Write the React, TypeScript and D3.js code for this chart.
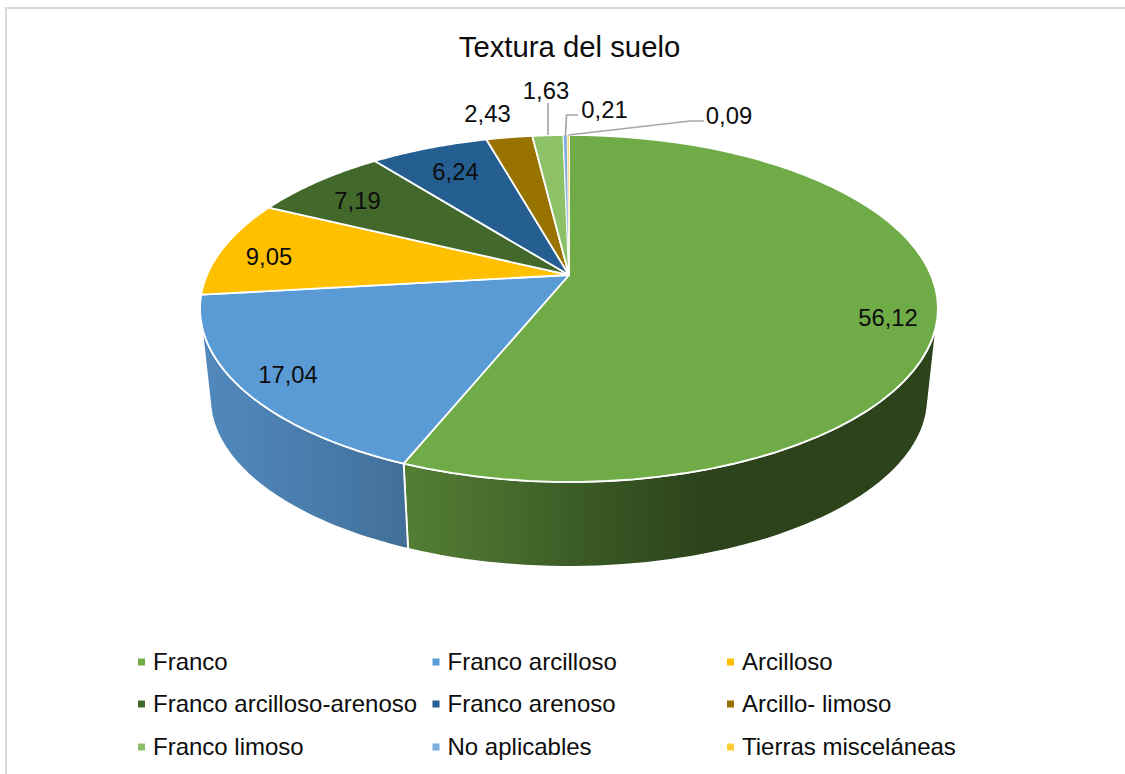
import React from 'react';
import * as d3 from 'd3';

const categories = ['Franco', 'Franco arcilloso', 'Arcilloso', 'Franco arcilloso-arenoso', 'Franco arenoso', 'Arcillo- limoso', 'Franco limoso', 'No aplicables', 'Tierras misceláneas'];
const values = [56.12, 17.04, 9.05, 7.19, 6.24, 2.43, 1.63, 0.21, 0.09];
const valueLabels = ['56,12', '17,04', '9,05', '7,19', '6,24', '2,43', '1,63', '0,21', '0,09'];
const colors = ['#6fac48', '#5b9bd5', '#ffc000', '#43682b', '#255e91', '#997300', '#8cc168', '#7cafdd', '#ffcd33'];
const title = 'Textura del suelo';

const W = 1125, H = 774;
const FONT = '"Liberation Sans", Arial, sans-serif';
const labelPos: [number, number][] = [[888, 317], [288, 374], [269, 256], [357.5, 200], [455.5, 171], [487.5, 113], [546, 90], [604.5, 109], [729, 115]];
const legendX = [153, 447.5, 742];
const legendY = [661, 703, 746];

// perspective projection of the pie disc
const k = 0.193, A = 362, B = 167, cx = 569, topY = 275, botY = 365.5, botS = 0.973;
const project = (deg: number, bottom = false): [number, number] => {
  const t = (deg * Math.PI) / 180;
  const u = Math.sin(t), v = Math.cos(t), w = 1 + k * v, s = bottom ? botS : 1;
  return [cx + (s * A * u) / w, (bottom ? botY : topY) - (s * B * v) / w];
};
const line = d3.line();
const rimRange = (a: number, b: number, bottom = false) =>
  d3.range(0, 61).map((i) => project(a + ((b - a) * i) / 60, bottom));

const arcs = d3.pie<number>().sort(null).startAngle(0).endAngle(2 * Math.PI)(values);
const toDeg = (r: number) => (r * 180) / Math.PI;
const WALL_START = 105, WALL_END = 255;

const wallStops: Record<number, [string, number][]> = {
  0: [['#2c431b', 0], ['#2c431b', 0.44], ['#3a5a25', 0.66], ['#4a6f2f', 0.85], ['#537f33', 1]],
  1: [['#426f98', 0], ['#4a7dad', 0.5], ['#5189bd', 1]],
};

export default function App() {
  return (
    <svg width={W} height={H} viewBox={`0 0 ${W} ${H}`} style={{ position: 'absolute', left: 0, top: 0, background: '#fff' }}>
      <defs>
        <linearGradient id="wall0" gradientUnits="objectBoundingBox" x1="1" x2="0" y1="0" y2="0">
          {wallStops[0].map(([c, o]) => <stop key={o} offset={o} stopColor={c} />)}
        </linearGradient>
        <linearGradient id="wall1" gradientUnits="objectBoundingBox" x1="1" x2="0" y1="0" y2="0">
          {wallStops[1].map(([c, o]) => <stop key={o} offset={o} stopColor={c} />)}
        </linearGradient>
      </defs>
      <path d="M6 775V8H1125" fill="none" stroke="#d9d9d9" strokeWidth={2} />
      <text x={569.5} y={57} textAnchor="middle" fontFamily={FONT} fontSize={29.3} fill="#0d0d0d">{title}</text>
      {arcs.slice(0, 2).map((a, i) => {
        const s = Math.max(toDeg(a.startAngle), WALL_START), e = Math.min(toDeg(a.endAngle), WALL_END);
        const pts = [...rimRange(s, e), ...rimRange(e, s, true)];
        return <path key={i} d={line(pts)! + 'Z'} fill={`url(#wall${i})`} stroke="#fff" strokeWidth={1.8} strokeLinejoin="round" />;
      })}
      {arcs.map((a, i) => {
        const pts: [number, number][] = [[cx, topY], ...rimRange(toDeg(a.startAngle), toDeg(a.endAngle))];
        return <path key={i} d={line(pts)! + 'Z'} fill={colors[i]} stroke="#fff" strokeWidth={i > 6 ? 0.6 : 1.8} strokeLinejoin="round" />;
      })}
      <g fill="none" stroke="#a6a6a6" strokeWidth={1.7}>
        <path d="M548 135V103" />
        <path d="M565.5 135L566.5 115H578" />
        <path d="M568.5 135L690 121H704" />
      </g>
      {valueLabels.map((t, i) => (
        <text key={i} x={labelPos[i][0]} y={labelPos[i][1]} dy="0.36em" textAnchor="middle" fontFamily={FONT} fontSize={23.8} fill="#0d0d0d">{t}</text>
      ))}
      {categories.map((c, i) => {
        const col = i % 3, row = Math.floor(i / 3);
        return (
          <g key={c}>
            <rect x={legendX[col] - 15} y={legendY[row] - 2.5} width={7} height={7} fill={colors[i]} />
            <text x={legendX[col]} y={legendY[row]} dy="0.36em" fontFamily={FONT} fontSize={24} fill="#0d0d0d">{c}</text>
          </g>
        );
      })}
    </svg>
  );
}
